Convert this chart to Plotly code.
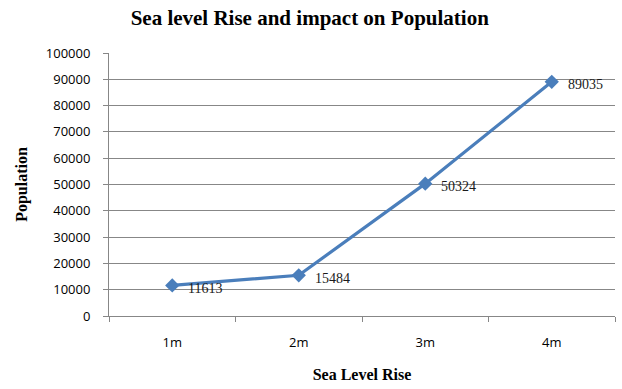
import plotly.graph_objects as go

# Sea level rise scenarios and affected population
rise_levels = ["1m", "2m", "3m", "4m"]
population = [11613, 15484, 50324, 89035]
y_ticks = list(range(0, 100001, 10000))

LINE_BLUE = "#4A7EBB"
GRID_GREY = "#878787"
SERIF = "Liberation Serif, Times New Roman, serif"
SANS = "Open Sans, Liberation Sans, Arial, sans-serif"

fig = go.Figure()
fig.add_trace(go.Scatter(
    x=rise_levels,
    y=population,
    mode="lines+markers",
    line=dict(color=LINE_BLUE, width=3.2),
    marker=dict(symbol="diamond", size=11, color=LINE_BLUE),
    showlegend=False,
    hoverinfo="x+y",
))

# Value labels to the right of each point
for lvl, val in zip(rise_levels, population):
    fig.add_annotation(
        x=lvl, y=val, text=str(val), showarrow=False,
        xanchor="left", yanchor="middle", xshift=14, yshift=-3,
        font=dict(family=SERIF, size=14, color="#1a1a1a"),
    )

fig.update_layout(
    width=622, height=389,
    margin=dict(l=109, r=7, t=53, b=73),
    paper_bgcolor="white",
    plot_bgcolor="white",
    title=dict(
        text="<b>Sea level Rise and impact on Population</b>",
        x=0.498, xanchor="center", xref="container",
        y=0.955, yanchor="middle", yref="container",
        font=dict(family=SERIF, size=21, color="black"),
    ),
)

fig.update_xaxes(
    type="category",
    range=[-0.5, len(rise_levels) - 0.5],
    showgrid=False,
    showline=True, linecolor=GRID_GREY, linewidth=1,
    ticks="outside", tickson="boundaries", ticklen=5, tickcolor=GRID_GREY,
    tickfont=dict(family=SANS, size=13, color="black"),
    ticklabelstandoff=14,
    title=dict(text="<b>Sea Level Rise</b>", font=dict(family=SERIF, size=16, color="black"), standoff=19),
    fixedrange=True,
)
fig.update_yaxes(
    range=[0, 100000],
    tickvals=y_ticks,
    tickformat="d",
    showgrid=True, gridcolor=GRID_GREY, gridwidth=1,
    showline=True, linecolor=GRID_GREY, linewidth=1,
    ticks="outside", ticklen=5, tickcolor=GRID_GREY,
    tickfont=dict(family=SANS, size=13, color="black"),
    ticklabelstandoff=10,
    zeroline=False,
    title=dict(text="<b>Population</b>", font=dict(family=SERIF, size=16, color="black"), standoff=14),
    fixedrange=True,
)

fig.write_html("out.html")
